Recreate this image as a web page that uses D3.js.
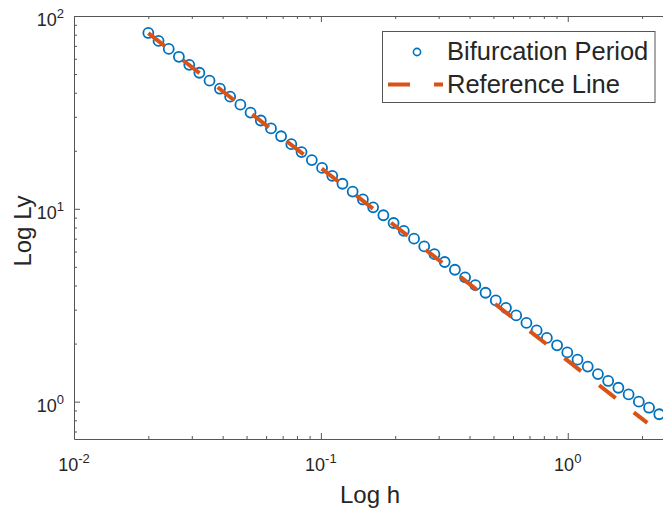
<!DOCTYPE html>
<html lang="en">
  <head>
    <meta charset="UTF-8" />
    <title>Bifurcation Period - log-log</title>
    <script src="https://d3js.org/d3.v7.min.js"></script>
    <style>
      body { margin: 0; background: #fff; }
      svg { display: block; font-family: "Liberation Sans", Arial, sans-serif; }
    </style>
  </head>
  <body>
    <svg id="chart" width="663" height="512"></svg>

    <script>
      // step size h and measured bifurcation period Ly
      const hValues = [
        0.0200, 0.0220, 0.0242, 0.0266, 0.0293, 0.0322, 0.0354, 0.0390, 0.0429, 0.0472,
        0.0519, 0.0571, 0.0628, 0.0690, 0.0759, 0.0835, 0.0919, 0.1011, 0.1112, 0.1223,
        0.1345, 0.1480, 0.1628, 0.1791, 0.1970, 0.2167, 0.2384, 0.2622, 0.2884, 0.3173,
        0.3490, 0.3839, 0.4223, 0.4645, 0.5110, 0.5621, 0.6183, 0.6801, 0.7481, 0.8229,
        0.9052, 0.9957, 1.0953, 1.2048, 1.3253, 1.4578, 1.6036, 1.7640, 1.9404, 2.1344,
        2.3478
      ];
      const lyValues = [
        81.66, 74.25, 67.52, 61.44, 55.80, 50.78, 46.21, 41.96, 38.16, 34.70,
        31.57, 28.71, 26.12, 23.79, 21.64, 19.68, 17.90, 16.29, 14.82, 13.49,
        12.28, 11.18, 10.18, 9.26, 8.44, 7.69, 7.00, 6.38, 5.82, 5.30,
        4.83, 4.41, 4.02, 3.67, 3.35, 3.06, 2.80, 2.56, 2.34, 2.14,
        1.96, 1.80, 1.65, 1.52, 1.39, 1.28, 1.18, 1.09, 1.00, 0.93,
        0.86
      ];
      const refX = [0.02, 2.1];
      const refY = [81.5, 0.776];

      const xMajor = [0.01, 0.1, 1];
      const xMinor = [0.02, 0.03, 0.04, 0.05, 0.06, 0.07, 0.08, 0.09,
        0.2, 0.3, 0.4, 0.5, 0.6, 0.7, 0.8, 0.9, 2];
      const yMajor = [1, 10, 100];
      const yMinor = [0.7, 0.8, 0.9, 2, 3, 4, 5, 6, 7, 8, 9,
        20, 30, 40, 50, 60, 70, 80, 90];
      const xTickLabels = ["-2", "-1", "0"];
      const yTickLabels = ["0", "1", "2"];
      const seriesNames = ["Bifurcation Period", "Reference Line"];

      const svg = d3.select("#chart");
      const blue = "#0072BD";
      const orange = "#D95319";
      const axisColor = "#262626";

      const plotLeft = 74, plotTop = 16, plotBottom = 439, plotRight = 666;

      const x = d3.scaleLog().domain([0.01, 2.5]).range([plotLeft, plotRight]);
      const y = d3.scaleLog().domain([0.64, 100]).range([plotBottom, plotTop]);

      function styleAxis(g) {
        g.select(".domain").attr("stroke", "#555").attr("stroke-width", 1);
        g.selectAll(".tick line").attr("stroke", "#555").attr("stroke-width", 1);
        g.selectAll(".tick text").remove();
      }

      // box + inward ticks (right side falls outside the picture)
      const sides = [
        { make: d3.axisBottom, scale: x, major: xMajor, minor: xMinor, t: `translate(0,${plotBottom})` },
        { make: d3.axisTop, scale: x, major: xMajor, minor: xMinor, t: `translate(0,${plotTop})` },
        { make: d3.axisLeft, scale: y, major: yMajor, minor: yMinor, t: `translate(${plotLeft},0)` }
      ];
      sides.forEach((s) => {
        svg.append("g").attr("transform", s.t)
          .call(s.make(s.scale).tickValues(s.major).tickSizeInner(-6).tickSizeOuter(0).tickFormat(""))
          .call(styleAxis);
        svg.append("g").attr("transform", s.t)
          .call(s.make(s.scale).tickValues(s.minor).tickSizeInner(-3).tickSizeOuter(0).tickFormat(""))
          .call(styleAxis)
          .select(".domain").remove();
      });

      // tick labels 10^n
      xMajor.forEach((v, i) => {
        const t = svg.append("text")
          .attr("x", x(v)).attr("y", 471)
          .attr("text-anchor", "middle")
          .attr("fill", axisColor)
          .style("font-size", "18px");
        t.append("tspan").text("10");
        t.append("tspan").attr("dy", -8).style("font-size", "13px").text(xTickLabels[i]);
      });
      yMajor.forEach((v, i) => {
        const t = svg.append("text")
          .attr("x", 64).attr("y", y(v) + 10)
          .attr("text-anchor", "end")
          .attr("fill", axisColor)
          .style("font-size", "18px");
        t.append("tspan").text("10");
        t.append("tspan").attr("dy", -8).style("font-size", "13px").text(yTickLabels[i]);
      });

      // axis titles
      svg.append("text")
        .attr("x", (plotLeft + plotRight) / 2).attr("y", 503)
        .attr("text-anchor", "middle")
        .attr("fill", axisColor)
        .style("font-size", "24px")
        .text("Log h");
      svg.append("text")
        .attr("transform", "translate(31,231) rotate(-90)")
        .attr("text-anchor", "middle")
        .attr("fill", axisColor)
        .style("font-size", "24px")
        .text("Log Ly");

      // data
      const points = hValues.map((h, i) => ({ h: h, ly: lyValues[i] }));
      svg.append("g")
        .selectAll("circle")
        .data(points)
        .join("circle")
        .attr("cx", (d) => x(d.h))
        .attr("cy", (d) => y(d.ly))
        .attr("r", 5)
        .attr("fill", "none")
        .attr("stroke", blue)
        .attr("stroke-width", 1.8);

      const line = d3.line().x((d) => x(d[0])).y((d) => y(d[1]));
      svg.append("path")
        .datum(refX.map((v, i) => [v, refY[i]]))
        .attr("d", line)
        .attr("fill", "none")
        .attr("stroke", orange)
        .attr("stroke-width", 4)
        .attr("stroke-dasharray", "21,23");

      // legend
      const legend = svg.append("g");
      legend.append("rect")
        .attr("x", 382.5).attr("y", 31.5)
        .attr("width", 272.5).attr("height", 71)
        .attr("fill", "#fff")
        .attr("stroke", "#555")
        .attr("stroke-width", 1);
      legend.append("circle")
        .attr("cx", 417).attr("cy", 52)
        .attr("r", 3.6)
        .attr("fill", "none")
        .attr("stroke", blue)
        .attr("stroke-width", 1.6);
      legend.append("line")
        .attr("x1", 388).attr("x2", 443)
        .attr("y1", 84.5).attr("y2", 84.5)
        .attr("stroke", orange)
        .attr("stroke-width", 4)
        .attr("stroke-dasharray", "22,24");
      legend.selectAll("text.leg")
        .data(seriesNames)
        .join("text")
        .attr("class", "leg")
        .attr("x", 447)
        .attr("y", (d, i) => (i === 0 ? 60 : 93))
        .attr("fill", axisColor)
        .style("font-size", "25.5px")
        .text((d) => d);
    </script>
  </body>
</html>
